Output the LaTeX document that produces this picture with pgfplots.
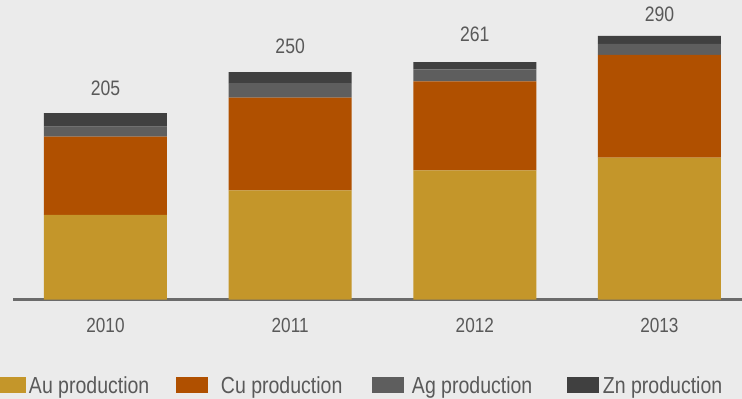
\documentclass[border=0pt]{standalone}
\usepackage{fontspec}
\setmainfont{Liberation Sans}[FakeStretch=0.84]
\usepackage{pgfplots}
\usepackage{pgfplotstable}
\pgfplotsset{compat=1.18}
\definecolor{bg}{HTML}{EBEBEB}
\definecolor{au}{HTML}{C4962A}
\definecolor{cu}{HTML}{B05000}
\definecolor{ag}{HTML}{5E5E5E}
\definecolor{zn}{HTML}{404040}
\definecolor{txt}{HTML}{595959}
\definecolor{basec}{HTML}{6B6B6B}
\pgfplotstableread{
x y lab sh
0 15 205 24
1 12 250 24
2 8 261 24.5
3 9 290 18
}\zndata
\begin{document}
\begin{tikzpicture}
\fill[bg] (0,0) rectangle (742bp,399bp);
\begin{axis}[
  at={(13.15bp,99.5bp)}, anchor=south west,
  scale only axis, width=728.85bp, height=272.8bp,
  xmin=-0.5, xmax=3.447, ymin=0, ymax=300,
  ybar stacked, bar width=123bp,
  axis y line=none, axis x line*=bottom,
  x axis line style={draw=basec, line width=3bp, -},
  xtick={0,1,2,3}, xticklabels={2010,2011,2012,2013},
  major tick length=0pt,
  xticklabel style={font=\fontsize{20.5}{24}\selectfont, text=txt, anchor=base, yshift=-33bp, inner sep=0pt},
  ytick=\empty,
  clip=false,
  legend columns=4,
  legend style={draw=none, fill=none, inner sep=0pt, outer sep=0pt, column sep=0pt,
    at={(axis description cs:-0.02682,-0.3171)}, anchor=west,
    nodes={inner xsep=0pt, inner ysep=0pt, font=\fontsize{23.3}{26}\selectfont, text=txt}},
  legend image code/.code={\fill[#1] (0bp,-7bp) rectangle (32bp,9bp);},
]
\addplot[fill=au, draw=none] coordinates {(0,93) (1,120) (2,142) (3,156)};
\addplot[fill=cu, draw=none] coordinates {(0,86) (1,102) (2,98) (3,113)};
\addplot[fill=ag, draw=none] coordinates {(0,11) (1,16) (2,13) (3,12)};
\addplot[fill=zn, draw=none, point meta=explicit symbolic, nodes near coords,
  visualization depends on={\thisrow{sh}\as\lsh},
  every node near coord/.append style={anchor=base, yshift=\lsh bp, font=\fontsize{21}{24}\selectfont, text=txt, inner sep=0pt}]
  table[x=x, y=y, meta=lab] {\zndata};
\legend{\makebox[150.4bp][l]{\hspace{3.4bp}Au production},
        \makebox[164bp][l]{\hspace{13bp}Cu production},
        \makebox[163bp][l]{\hspace{8bp}Ag production},
        \makebox[142bp][l]{\hspace{4bp}Zn production}}
\end{axis}
\pgfresetboundingbox
\path[use as bounding box] (0,0) rectangle (742bp,399bp);
\end{tikzpicture}
\end{document}
